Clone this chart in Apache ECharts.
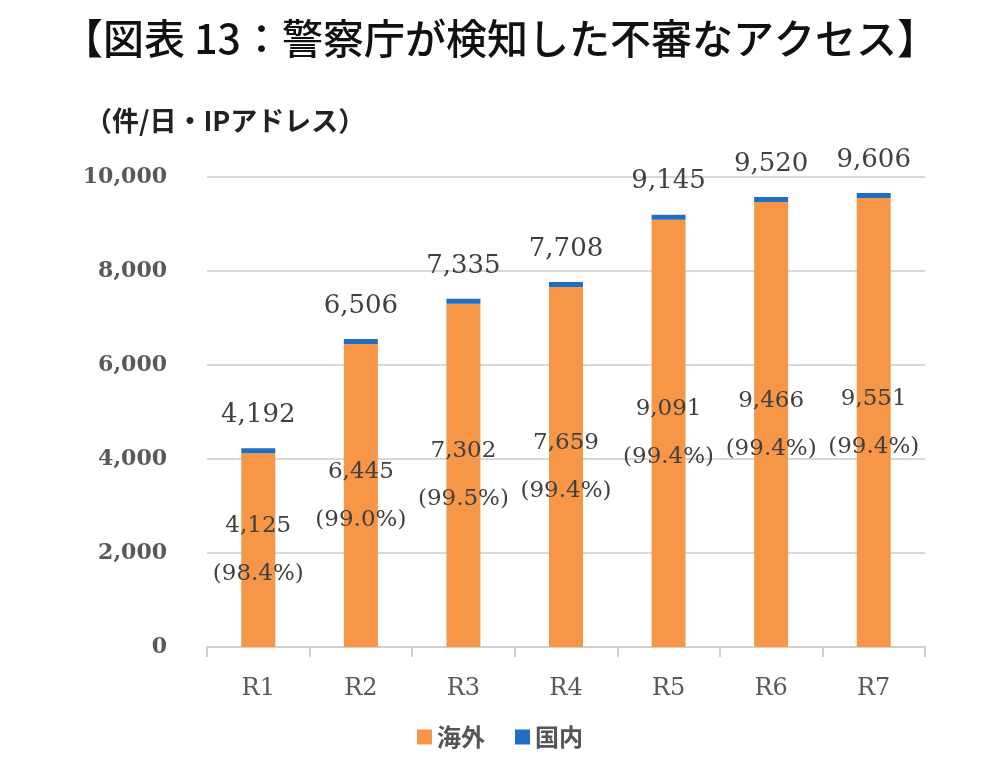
<!DOCTYPE html>
<html>
<head>
<meta charset="utf-8">
<title>警察庁が検知した不審なアクセス</title>
<script src="https://cdn.jsdelivr.net/npm/echarts@6/dist/echarts.min.js"></script>
<style>
  html, body { margin: 0; padding: 0; background: #fff; }
  #main { width: 1000px; height: 764px; }
</style>
</head>
<body>
<div id="main"></div>
<script>
// 年度
var years = ['R1', 'R2', 'R3', 'R4', 'R5', 'R6', 'R7'];
// 合計（件/日・IPアドレス）
var totals = [4192, 6506, 7335, 7708, 9145, 9520, 9606];
// 海外
var overseas = [4125, 6445, 7302, 7659, 9091, 9466, 9551];
// 国内
var domestic = [67, 61, 33, 49, 54, 54, 55];
// 海外の割合
var overseasPct = ['98.4%', '99.0%', '99.5%', '99.4%', '99.4%', '99.4%', '99.4%'];
var yTicks = [0, 2000, 4000, 6000, 8000, 10000];

var serif = '"DejaVu Serif", "Liberation Serif", serif';
var cjk = '"Noto Sans CJK JP", sans-serif';

var myChart = echarts.init(document.getElementById('main'));
myChart.setOption({
    animation: false,
    backgroundColor: '#fff',
    title: [{
        text: '【図表 13：警察庁が検知した不審なアクセス】',
        left: 'center',
        top: 13,
        textStyle: { fontFamily: cjk, fontSize: 41, fontWeight: 500, color: '#111' }
    }, {
        text: '（件/日・IPアドレス）',
        left: 80,
        top: 102,
        textStyle: { fontFamily: cjk, fontSize: 27, fontWeight: 'bold', color: '#222' }
    }],
    legend: {
        bottom: 10,
        left: 'center',
        itemWidth: 15,
        itemHeight: 15,
        itemGap: 30,
        icon: 'rect',
        textStyle: { fontFamily: cjk, fontSize: 24, fontWeight: 'bold', color: '#555' },
        data: ['海外', '国内']
    },
    grid: { left: 207, right: 75, top: 177, bottom: 117, containLabel: false },
    xAxis: {
        type: 'category',
        data: years,
        axisLine: { lineStyle: { color: '#d0d0d0', width: 2 } },
        axisTick: { show: true, length: 10, lineStyle: { color: '#d0d0d0', width: 2 } },
        axisLabel: { margin: 30, fontFamily: serif, fontSize: 24, color: '#595959' }
    },
    yAxis: {
        type: 'value',
        min: 0,
        max: yTicks[yTicks.length - 1],
        interval: 2000,
        axisLine: { show: false },
        axisTick: { show: false },
        splitLine: { lineStyle: { color: '#d9d9d9', width: 2 } },
        axisLabel: {
            margin: 40,
            fontFamily: serif,
            fontSize: 22,
            fontWeight: 'bold',
            color: '#595959',
            formatter: function (v) { return v.toLocaleString('en-US'); }
        }
    },
    series: [{
        name: '海外',
        type: 'bar',
        stack: 'total',
        barWidth: 34,
        data: overseas,
        itemStyle: { color: '#F79646' },
        label: {
            show: true,
            position: 'inside',
            fontFamily: serif,
            fontSize: 23,
            lineHeight: 48,
            color: '#404040',
            formatter: function (p) {
                return p.value.toLocaleString('en-US') + '\n(' + overseasPct[p.dataIndex] + ')';
            }
        }
    }, {
        name: '国内',
        type: 'bar',
        stack: 'total',
        barWidth: 34,
        barMinHeight: 5,
        data: domestic,
        itemStyle: { color: '#1F6FC5' },
        label: {
            show: true,
            position: 'top',
            distance: 20,
            fontFamily: serif,
            fontSize: 26,
            color: '#404040',
            formatter: function (p) {
                return totals[p.dataIndex].toLocaleString('en-US');
            }
        }
    }]
});
</script>
</body>
</html>
